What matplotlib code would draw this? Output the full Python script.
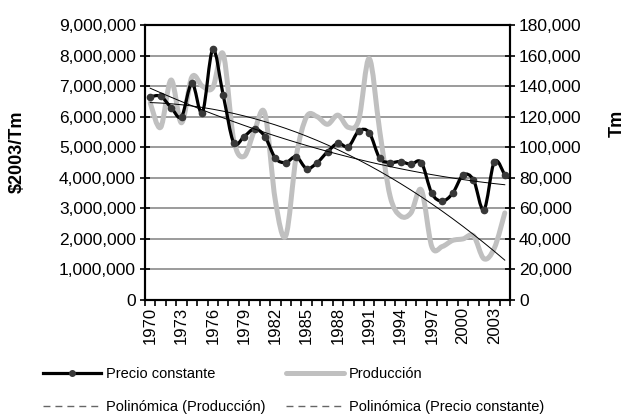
import numpy as np
import matplotlib
matplotlib.use('Agg')
import matplotlib.pyplot as plt
from matplotlib.path import Path
from matplotlib.patches import PathPatch
from matplotlib.lines import Line2D
from matplotlib.ticker import FuncFormatter, FixedLocator

plt.rcParams['font.family'] = ['Liberation Sans', 'DejaVu Sans']

# datos
years = list(range(1970, 2005))
precio = [6.65, 6.67, 6.30, 6.00, 7.10, 6.13, 8.20, 6.70, 5.15, 5.35, 5.60, 5.35,
          4.64, 4.50, 4.69, 4.30, 4.49, 4.85, 5.13, 5.02, 5.53, 5.48, 4.64, 4.50,
          4.53, 4.44, 4.50, 3.49, 3.24, 3.49, 4.09, 3.93, 2.95, 4.53, 4.09]  # millones $2003/Tm
produccion = [129, 113, 144, 116, 146, 140, 139, 161, 105, 94, 111, 122, 65, 42,
              94, 120, 120, 115, 121, 113, 118, 158, 111, 68, 55, 57, 72, 35, 35,
              39, 40, 42, 27, 34, 57]  # miles de Tm
xtick_years = list(range(1970, 2004, 3))


def smooth_path(x, y):
    # curva suave tipo Excel (Catmull-Rom -> Bezier)
    x = np.asarray(x, float)
    y = np.asarray(y, float)
    pts = np.column_stack([x, y])
    verts = [pts[0]]
    codes = [Path.MOVETO]
    n = len(pts)
    for i in range(n - 1):
        p0 = pts[i - 1] if i > 0 else pts[i]
        p1 = pts[i]
        p2 = pts[i + 1]
        p3 = pts[i + 2] if i + 2 < n else pts[i + 1]
        c1 = p1 + (p2 - p0) / 6.0
        c2 = p2 - (p3 - p1) / 6.0
        verts += [c1, c2, p2]
        codes += [Path.CURVE4] * 3
    return Path(verts, codes)


x = np.arange(len(years))
p_vals = np.array(precio) * 1e6
q_vals = np.array(produccion) * 1e3

fig = plt.figure(figsize=(6.29, 4.16), dpi=100)
ax2 = fig.add_axes([145 / 629, 1 - 300 / 416, 365 / 629, 275 / 416])
ax = ax2.twinx()
ax.set_zorder(ax2.get_zorder() + 1)
ax.patch.set_visible(False)
ax.yaxis.tick_left()
ax2.yaxis.tick_right()

# grid en el eje secundario (mismas divisiones)
ax2.set_ylim(0, 180000)
ax2.set_yticks(np.arange(0, 180001, 20000))
ax2.grid(axis='y', color='#808080', lw=1.1, zorder=0)
ax2.set_axisbelow(True)

# produccion (gris)
ax2.add_patch(PathPatch(smooth_path(x, q_vals), fill=False, ec='#c0c0c0', lw=3.6,
                        capstyle='round', joinstyle='round', zorder=2))
cq = np.polyfit(x, q_vals, 2)
ax2.plot(x, np.polyval(cq, x), color='black', lw=0.7, zorder=3)

# precio (negro)
ax.set_ylim(0, 9e6)
ax.set_yticks(np.arange(0, 9e6 + 1, 1e6))
ax.add_patch(PathPatch(smooth_path(x, p_vals), fill=False, ec='black', lw=2.3,
                       capstyle='round', joinstyle='round', zorder=2))
ax.plot(x, p_vals, 'o', ms=4.5, color='#383838', ls='none', zorder=3)
cp = np.polyfit(x, p_vals, 2)
ax.plot(x, np.polyval(cp, x), color='black', lw=0.7, zorder=4)

ax2.set_xlim(-0.5, len(years) - 0.5)
ax2.xaxis.set_major_locator(FixedLocator(np.arange(-0.5, len(years), 1)))
ax2.xaxis.set_minor_locator(FixedLocator([years.index(y) for y in xtick_years]))
ax2.xaxis.set_major_formatter(FuncFormatter(lambda v, p: ''))
ax2.xaxis.set_minor_formatter(FuncFormatter(lambda v, p: str(years[int(round(v))])))
ax2.tick_params(axis='x', which='major', direction='out', length=4, width=1.2, color='black')
ax2.tick_params(axis='x', which='minor', length=0, rotation=90, labelsize=12, pad=5)

for a in (ax, ax2):
    a.yaxis.set_major_formatter(FuncFormatter(lambda v, p: f'{int(v):,}'))
    a.tick_params(axis='y', direction='inout', length=7, width=1.2, labelsize=12.5, pad=3)
    for s in a.spines.values():
        s.set_linewidth(1.5)
        s.set_color('black')

fig.text(17 / 629, 1 - 152 / 416, '$2003/Tm', rotation=90, fontsize=13, fontweight='bold',
         ha='center', va='center')
fig.text(617 / 629, 1 - 123 / 416, 'Tm', rotation=90, fontsize=13, fontweight='bold',
         ha='center', va='center')

handles = [
    Line2D([], [], color='black', lw=2.3, marker='o', ms=4, mfc='#383838', mec='#383838'),
    Line2D([], [], color='#c0c0c0', lw=3.6, solid_capstyle='round'),
    Line2D([], [], color='#666666', lw=1.0, ls=(0, (5, 3.6))),
    Line2D([], [], color='#666666', lw=1.0, ls=(0, (5, 3.6))),
]
labels = ['Precio constante', 'Producción', 'Polinómica (Producción)',
          'Polinómica (Precio constante)']
# orden por filas en 2 columnas
order = [0, 2, 1, 3]
leg = fig.legend([handles[i] for i in order], [labels[i] for i in order],
                 loc='upper left', bbox_to_anchor=(43 / 629, 1 - 367 / 416), ncol=2,
                 frameon=False, borderpad=0, borderaxespad=0, handlelength=4.0,
                 handletextpad=0.35, columnspacing=1.35, labelspacing=1.3, fontsize=10.5)

fig.savefig('out.png', dpi=100)
